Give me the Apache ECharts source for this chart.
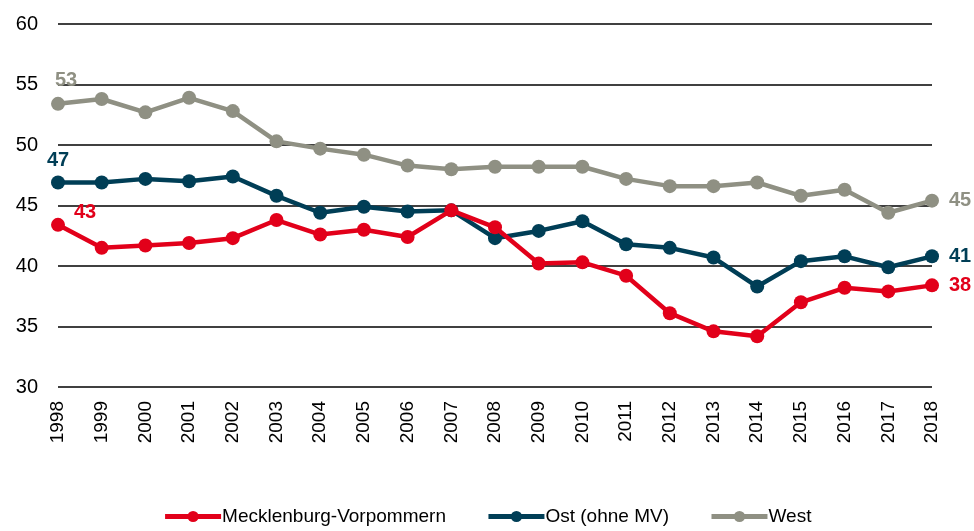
<!DOCTYPE html>
<html lang="de" style="height: 100%">
<head>
  <meta charset="utf-8">
</head>
<body style="height: 100%; margin: 0">
  <div id="container" style="width: 974px; height: 531px"></div>
  <script type="text/javascript" src="https://cdn.jsdelivr.net/npm/echarts@6/dist/echarts.min.js"></script>
  <script type="text/javascript">
    var years = ['1998', '1999', '2000', '2001', '2002', '2003', '2004', '2005', '2006', '2007', '2008',
      '2009', '2010', '2011', '2012', '2013', '2014', '2015', '2016', '2017', '2018'];
    var mv = [43.4, 41.5, 41.7, 41.9, 42.3, 43.8, 42.6, 43.0, 42.4, 44.6, 43.2,
      40.2, 40.3, 39.2, 36.1, 34.6, 34.2, 37.0, 38.2, 37.9, 38.4];
    var ost = [46.9, 46.9, 47.2, 47.0, 47.4, 45.8, 44.4, 44.9, 44.5, 44.6, 42.3,
      42.9, 43.7, 41.8, 41.5, 40.7, 38.3, 40.4, 40.8, 39.9, 40.8];
    var west = [53.4, 53.8, 52.7, 53.9, 52.8, 50.3, 49.7, 49.2, 48.3, 48.0, 48.2,
      48.2, 48.2, 47.2, 46.6, 46.6, 46.9, 45.8, 46.3, 44.4, 45.4];

    var font = "'Liberation Sans Narrow', 'Liberation Sans', Arial, sans-serif";

    // first and last point get a bold value label
    function withLabels(values, color, startLabel) {
      return values.map(function (v, i) {
        if (i === 0) {
          return { value: v, label: Object.assign({ show: true, color: color, fontWeight: 'bold', fontSize: 20, fontFamily: font,
            formatter: function (p) { return Math.round(p.value); } }, startLabel) };
        }
        if (i === values.length - 1) {
          return { value: v, label: { show: true, position: 'right', distance: 10, color: color, fontWeight: 'bold', fontSize: 20, fontFamily: font,
            formatter: function (p) { return Math.round(p.value); } } };
        }
        return v;
      });
    }

    var dom = document.getElementById('container');
    var myChart = echarts.init(dom, null, { renderer: 'canvas' });

    var option = {
      animation: false,
      textStyle: { fontFamily: font },
      grid: { left: 58, right: 42, top: 24, bottom: 144 },
      legend: {
        bottom: 0,
        left: 'center',
        itemWidth: 56,
        itemHeight: 14,
        itemGap: 40,
        lineStyle: { width: 5 },
        textStyle: { fontSize: 19, color: '#000', fontFamily: font, padding: [0, 0, 0, -4] },
        data: ['Mecklenburg-Vorpommern', 'Ost (ohne MV)', 'West']
      },
      xAxis: {
        type: 'category',
        data: years,
        boundaryGap: false,
        axisLine: { show: false },
        axisTick: { show: false },
        axisLabel: { rotate: 90, fontSize: 19, color: '#000', margin: 14, fontFamily: font }
      },
      yAxis: {
        type: 'value',
        min: 30,
        max: 60,
        interval: 5,
        axisLine: { show: false },
        axisTick: { show: false },
        axisLabel: { fontSize: 20, color: '#000', margin: 20, fontFamily: font },
        splitLine: { lineStyle: { color: '#000', width: 1.5 } }
      },
      series: [
        {
          name: 'Mecklenburg-Vorpommern',
          type: 'line',
          data: withLabels(mv, '#E2001A', { position: 'right', offset: [4, -12] }),
          color: '#E2001A',
          symbol: 'circle',
          symbolSize: 14,
          lineStyle: { width: 4.5 },
          z: 4
        },
        {
          name: 'Ost (ohne MV)',
          type: 'line',
          data: withLabels(ost, '#003E56', { position: 'top', distance: 5 }),
          color: '#003E56',
          symbol: 'circle',
          symbolSize: 14,
          lineStyle: { width: 4.5 },
          z: 3
        },
        {
          name: 'West',
          type: 'line',
          data: withLabels(west, '#8F9083', { position: 'top', offset: [8, -1] }),
          color: '#8F9083',
          symbol: 'circle',
          symbolSize: 14,
          lineStyle: { width: 4.5 },
          z: 2
        }
      ]
    };

    myChart.setOption(option);
    window.addEventListener('resize', myChart.resize);
  </script>
</body>
</html>
